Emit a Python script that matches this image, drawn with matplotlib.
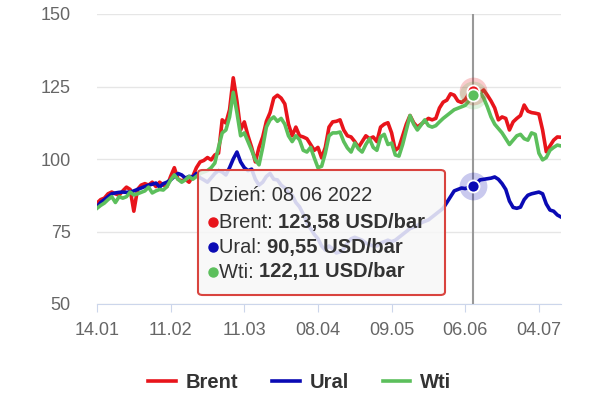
import matplotlib
matplotlib.use("Agg")
import matplotlib.pyplot as plt
from matplotlib.patches import FancyBboxPatch
from matplotlib.lines import Line2D

plt.rcParams['font.family'] = ['Liberation Sans', 'DejaVu Sans']

# trading days, 14.01.2022 .. mid July 2022
tick_pos = [0, 20, 40, 60, 80, 100, 120]
tick_labels = ['14.01', '11.02', '11.03', '08.04', '09.05', '06.06', '04.07']

brent = [84.8, 86, 86.5, 88, 88.6, 88, 87.5, 89, 90.3, 89.5,
         82, 89.5, 91, 91.5, 91, 92, 90.5, 92, 91, 90.5,
         94, 97, 93, 92.5, 93, 92, 94, 97, 99, 99.5,
         100.5, 99.7, 101.4, 102, 113.5, 112.4, 117, 128, 120, 110,
         112.8, 108, 104, 99, 104, 107.6, 113, 116, 121, 122,
         121, 119, 112, 108, 111, 108, 107.6, 107, 105, 103,
         104, 100.4, 104, 111, 112.8, 113, 113.5, 110, 108, 107.6,
         106, 104, 106, 108, 107, 107.6, 106, 111, 112, 112.5,
         109, 103, 104, 108, 112, 115, 112.5, 111, 112, 113,
         114, 113.5, 114, 117.6, 119.6, 120.3, 122.5, 122, 120, 119.5,
         120.5, 122.5, 123.58, 123, 122.7, 123.8, 122, 120, 117.6, 113.5,
         114.5, 114, 110, 112.8, 114, 115, 118.6, 116.5, 116, 115.8,
         115.5, 110, 102.5, 104.5, 106.5, 107.6, 107.5]

ural = [83.5, 85, 86, 87, 88, 88.3, 88.5, 88.6, 88.5, 88.6,
        89, 89.5, 90, 90.5, 91, 91.3, 91.7, 90.3, 91.5, 92,
        92.8, 94, 95, 94.5, 93.4, 94, 93.8, 95, 93.5, 92.8,
        92, 93.5, 95, 96, 95.5, 94.5, 97, 100, 102.4, 99,
        97, 96, 96.5, 93, 91, 92, 94, 95, 93, 92.8,
        91, 90, 88.5, 87.5, 85, 83.5, 81, 78, 76, 74,
        72.5, 70, 68.6, 70, 69, 67.6, 68, 69, 71, 72.5,
        73, 72.5, 72, 71, 70.5, 70, 70, 71, 71.5, 72,
        71.5, 72, 73, 74, 75, 76, 76.5, 77, 78, 78.5,
        79, 80, 81, 82, 83, 85, 87, 89, 89.5, 90,
        89.8, 90.3, 90.55, 91.5, 92.8, 93, 93.2, 93.4, 93.8, 93,
        91.5, 89.5, 85.5, 83.3, 83, 83.4, 86, 87.5, 88, 88.3,
        88.6, 88, 84.5, 82.4, 82, 80.7, 80]

wti = [83, 84, 84.8, 86, 87, 85, 87, 86.5, 87, 88.6,
       87.6, 88, 88.5, 89, 90.3, 88.3, 89, 89.5, 89.3, 90.5,
       92.8, 94.5, 93, 92, 92.8, 94, 93, 94, 95, 95.5,
       96, 97, 98.6, 104, 109, 110, 114.5, 123, 116, 108,
       109, 106, 103, 99.7, 98, 104, 111, 113.5, 114.5, 113,
       114, 112, 108, 106, 108, 106.6, 103, 102.4, 104, 100.4,
       97, 97.5, 102, 108, 109, 109, 109.3, 106, 103.8, 102.4,
       105.5, 103.5, 102.4, 105, 107, 104, 103, 107.6, 108.5, 105,
       105.5, 101.4, 101, 105, 110, 115, 112, 110, 111.7, 113.5,
       111.5, 111, 111.5, 112.8, 114, 115, 116, 117, 117.5, 118,
       118.5, 120, 122.11, 122.5, 123, 121, 118, 114.5, 112, 110.5,
       109, 107, 105, 106.5, 108, 108.5, 107, 106.5, 109, 108.5,
       102, 99.7, 100.5, 103, 104, 104.8, 104.5]

sel = 102
sel_date = '08 06 2022'

c_brent = '#e8141b'
c_ural = '#0a0ab4'
c_wti = '#5cbf5c'

fig = plt.figure(figsize=(6, 4), dpi=100)
ax = fig.add_axes([97 / 600, 1 - 304 / 400, 464 / 600, 290 / 400])

days = list(range(len(brent)))
ax.plot(days, brent, color=c_brent, lw=2.6, label='Brent', zorder=3)
ax.plot(days, ural, color=c_ural, lw=2.6, label='Ural', zorder=3)
ax.plot(days, wti, color=c_wti, lw=2.6, label='Wti', zorder=3)

ax.set_xlim(0, len(brent) - 1)
ax.set_ylim(50, 150)
ax.set_yticks([50, 75, 100, 125, 150])
ax.set_xticks(tick_pos)
ax.set_xticklabels(tick_labels)
ax.grid(axis='y', color='#e6e6e6', lw=1)
ax.set_axisbelow(True)
for s in ['top', 'right', 'left']:
    ax.spines[s].set_visible(False)
ax.spines['bottom'].set_color('#ccd6eb')
ax.tick_params(axis='y', length=0, pad=19, labelsize=13, labelcolor='#666666')
ax.tick_params(axis='x', length=6, color='#ccd6eb', pad=7, labelsize=13, labelcolor='#666666')

# crosshair and hover markers
ax.axvline(sel, color='#999999', lw=1.5, zorder=4)
ax.scatter([sel], [brent[sel]], s=400, color=c_brent, alpha=0.22, lw=0, zorder=5)
ax.scatter([sel], [wti[sel]], s=400, color=c_wti, alpha=0.2, lw=0, zorder=5)
ax.scatter([sel], [ural[sel]], s=400, color=c_ural, alpha=0.22, lw=0, zorder=5)
ax.scatter([sel], [brent[sel]], s=75, color=c_brent, edgecolor='white', lw=1.3, zorder=6)
ax.scatter([sel], [wti[sel]], s=75, color=c_wti, edgecolor='white', lw=1.3, zorder=6)
ax.scatter([sel], [ural[sel]], s=75, color=c_ural, edgecolor='white', lw=1.3, zorder=6)

# legend
leg = ax.legend(loc='center', bbox_to_anchor=(0.5, 0.043), bbox_transform=fig.transFigure,
                ncol=3, frameon=False, handlelength=1.35, handletextpad=0.5,
                columnspacing=1.7, prop={'size': 14.5, 'weight': 'bold'})
for t in leg.get_texts():
    t.set_color('#333333')

# tooltip
W, H = 600, 400
box = FancyBboxPatch((198 / W, 1 - 295 / H), 247 / W, 125 / H,
                     boxstyle='round,pad=0,rounding_size=0.008',
                     transform=fig.transFigure, facecolor=(0.97, 0.97, 0.97, 0.86),
                     edgecolor='#d9443f', lw=1.5, zorder=10)
fig.patches.append(box)

fs = 14.5
fig.text(209 / W, 1 - 195 / H, 'Dzień: ' + sel_date, fontsize=fs, color='#333333',
         va='center', zorder=11)

rows = [('Brent', brent[sel], c_brent, 222),
        ('Ural', ural[sel], c_ural, 247),
        ('Wti', wti[sel], c_wti, 272)]
fig.canvas.draw()
renderer = fig.canvas.get_renderer()
for name, val, col, py in rows:
    y = 1 - py / H
    fig.add_artist(Line2D([213 / W], [y], marker='o', ms=6.5, color=col, lw=0,
                          transform=fig.transFigure, zorder=11))
    t1 = fig.text(219 / W, y, name + ': ', fontsize=fs, color='#333333', va='center', zorder=11)
    bb = t1.get_window_extent(renderer)
    val_txt = f'{val:.2f}'.replace('.', ',') + ' USD/bar'
    fig.text(bb.x1 / W, y, val_txt, fontsize=fs, fontweight='bold', color='#333333',
             va='center', zorder=11)

fig.savefig('out.png', dpi=100)
